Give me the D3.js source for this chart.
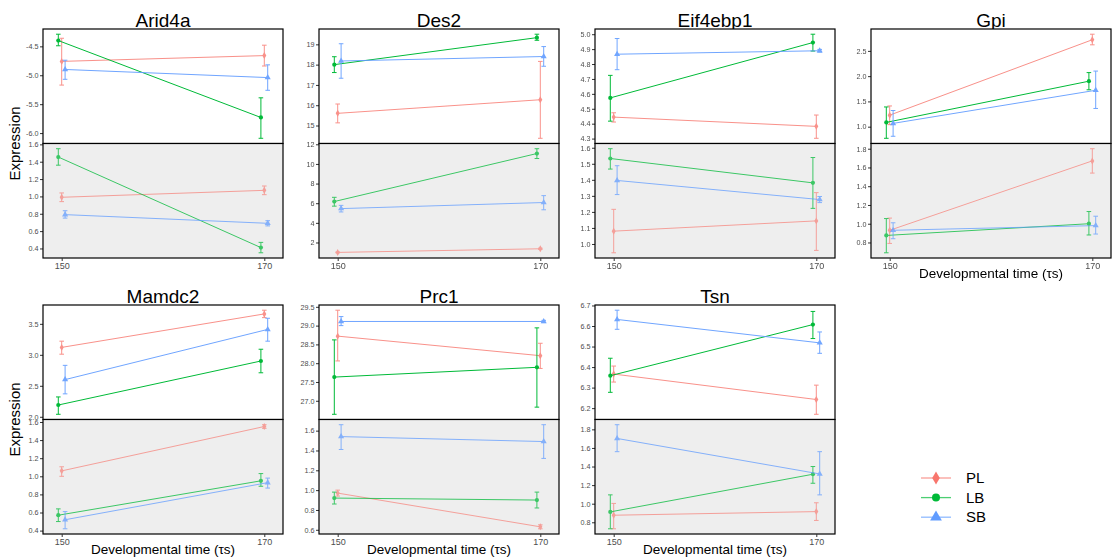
<!DOCTYPE html>
<html>
<head>
<meta charset="utf-8">
<script src="https://cdn.jsdelivr.net/npm/d3@7"></script>
<style>
  body { margin: 0; background: #fff; }
  svg { font-family: "Liberation Sans", Arial, sans-serif; }
</style>
</head>
<body>
<svg id="plot" width="1113" height="558"></svg>
<script>
const genes = ["Arid4a", "Des2", "Eif4ebp1", "Gpi", "Mamdc2", "Prc1", "Tsn"];
const groups = ["PL", "LB", "SB"];
const times = [150, 170];

// rows: [group, panel (0 = top, 1 = bottom), time, mean, low, high]
const arid4a = [
    ["PL", 0, 150, -4.76, -5.17, -4.36], ["LB", 0, 150, -4.40, -4.49, -4.29], ["SB", 0, 150, -4.90, -5.07, -4.74],
    ["PL", 0, 170, -4.66, -4.84, -4.48], ["LB", 0, 170, -5.73, -6.09, -5.39], ["SB", 0, 170, -5.04, -5.26, -4.82],
    ["PL", 1, 150, 0.99, 0.94, 1.04], ["LB", 1, 150, 1.454, 1.36, 1.55], ["SB", 1, 150, 0.79, 0.75, 0.835],
    ["PL", 1, 170, 1.07, 1.02, 1.12], ["LB", 1, 170, 0.41, 0.35, 0.47], ["SB", 1, 170, 0.69, 0.66, 0.72]
];
const des2 = [
    ["PL", 0, 150, 15.6, 15.13, 16.06], ["LB", 0, 150, 18.0, 17.61, 18.39], ["SB", 0, 150, 18.18, 17.33, 19.03],
    ["PL", 0, 170, 16.27, 14.37, 18.16], ["LB", 0, 170, 19.33, 19.2, 19.5], ["SB", 0, 170, 18.4, 17.92, 18.89],
    ["PL", 1, 150, 0.99, 0.95, 1.03], ["LB", 1, 150, 6.17, 5.7, 6.6], ["SB", 1, 150, 5.45, 5.11, 5.78],
    ["PL", 1, 170, 1.36, 1.3, 1.42], ["LB", 1, 170, 11.06, 10.55, 11.55], ["SB", 1, 170, 6.07, 5.33, 6.77]
];
const eif4ebp1 = [
    ["PL", 0, 150, 4.444, 4.411, 4.473], ["LB", 0, 150, 4.573, 4.417, 4.724], ["SB", 0, 150, 4.866, 4.762, 4.971],
    ["PL", 0, 170, 4.382, 4.302, 4.458], ["LB", 0, 170, 4.944, 4.887, 5.0], ["SB", 0, 170, 4.889, 4.88, 4.898],
    ["PL", 1, 150, 1.08, 0.945, 1.216], ["LB", 1, 150, 1.533, 1.467, 1.594], ["SB", 1, 150, 1.396, 1.308, 1.488],
    ["PL", 1, 170, 1.144, 0.96, 1.32], ["LB", 1, 170, 1.381, 1.222, 1.539], ["SB", 1, 170, 1.277, 1.258, 1.296]
];
const gpi = [
    ["PL", 0, 150, 1.228, 1.04, 1.41], ["LB", 0, 150, 1.085, 0.77, 1.39], ["SB", 0, 150, 1.065, 0.81, 1.32],
    ["PL", 0, 170, 2.72, 2.62, 2.83], ["LB", 0, 170, 1.90, 1.73, 2.07], ["SB", 0, 170, 1.72, 1.36, 2.10],
    ["PL", 1, 150, 0.93, 0.79, 1.06], ["LB", 1, 150, 0.875, 0.69, 1.055], ["SB", 1, 150, 0.93, 0.84, 1.01],
    ["PL", 1, 170, 1.67, 1.54, 1.80], ["LB", 1, 170, 1.0, 0.88, 1.13], ["SB", 1, 170, 0.98, 0.89, 1.08]
];
const mamdc2 = [
    ["PL", 0, 150, 3.12, 3.01, 3.22], ["LB", 0, 150, 2.19, 2.04, 2.32], ["SB", 0, 150, 2.60, 2.37, 2.83],
    ["PL", 0, 170, 3.66, 3.60, 3.72], ["LB", 0, 170, 2.90, 2.71, 3.09], ["SB", 0, 170, 3.41, 3.22, 3.59],
    ["PL", 1, 150, 1.06, 1.0, 1.105], ["LB", 1, 150, 0.57, 0.50, 0.64], ["SB", 1, 150, 0.52, 0.42, 0.61],
    ["PL", 1, 170, 1.55, 1.53, 1.57], ["LB", 1, 170, 0.95, 0.89, 1.03], ["SB", 1, 170, 0.93, 0.87, 0.98]
];
const prc1 = [
    ["PL", 0, 150, 28.72, 28.06, 29.41], ["LB", 0, 150, 27.63, 26.64, 28.62], ["SB", 0, 150, 29.11, 29.0, 29.24],
    ["PL", 0, 170, 28.2, 27.86, 28.53], ["LB", 0, 170, 27.89, 26.83, 28.94], ["SB", 0, 170, 29.11, 29.08, 29.14],
    ["PL", 1, 150, 0.97, 0.94, 1.0], ["LB", 1, 150, 0.92, 0.86, 0.98], ["SB", 1, 150, 1.54, 1.41, 1.66],
    ["PL", 1, 170, 0.63, 0.61, 0.65], ["LB", 1, 170, 0.90, 0.82, 0.98], ["SB", 1, 170, 1.49, 1.32, 1.66]
];
const tsn = [
    ["PL", 0, 150, 6.366, 6.327, 6.405], ["LB", 0, 150, 6.358, 6.277, 6.443], ["SB", 0, 150, 6.632, 6.584, 6.677],
    ["PL", 0, 170, 6.242, 6.17, 6.312], ["LB", 0, 170, 6.607, 6.539, 6.671], ["SB", 0, 170, 6.518, 6.467, 6.571],
    ["PL", 1, 150, 0.876, 0.73, 1.003], ["LB", 1, 150, 0.912, 0.73, 1.095], ["SB", 1, 150, 1.702, 1.56, 1.85],
    ["PL", 1, 170, 0.915, 0.82, 1.01], ["LB", 1, 170, 1.317, 1.22, 1.40], ["SB", 1, 170, 1.32, 1.095, 1.56]
];
const geneRows = [arid4a, des2, eif4ebp1, gpi, mamdc2, prc1, tsn];

// y tick spacing of each sub-panel, in gene order
const topTickStep = [0.5, 1, 0.1, 0.5, 0.5, 0.5, 0.1];
const bottomTickStep = [0.2, 2, 0.1, 0.2, 0.2, 0.2, 0.2];

// Config
const colors = { PL: "#F8766D", LB: "#00BA38", SB: "#619CFF" };
const symbols = { PL: d3.symbolDiamond, LB: d3.symbolCircle, SB: d3.symbolTriangle };
const dodge = { LB: -3.4, PL: 0, SB: 3.4 };
const lineAlpha = { PL: [0.8, 0.65], LB: [1, 0.75], SB: [0.9, 0.75] };
const panelW = 240, subH = 114.5, colStep = 276, rowStep = 276;
const left0 = 43, top0 = 29;

const svg = d3.select("#plot");
const x = d3.scaleLinear().domain([150, 170]).range([18.7, 221.3]);

function tickValues(domain, step) {
    const start = Math.ceil(domain[0] / step - 1e-9), stop = Math.floor(domain[1] / step + 1e-9);
    return d3.range(start, stop + 1).map(i => +(i * step).toFixed(6));
}

function drawSub(g, rows, panel, step, yTop) {
    const data = rows.filter(r => r[1] === panel);
    const lo = d3.min(data, r => r[4]), hi = d3.max(data, r => r[5]);
    const pad = (hi - lo) * 0.05;
    const y = d3.scaleLinear().domain([lo - pad, hi + pad]).range([yTop + subH, yTop]);

    g.append("rect")
        .attr("x", 0).attr("y", yTop)
        .attr("width", panelW).attr("height", subH)
        .attr("fill", panel === 0 ? "#FFFFFF" : "#EEEEEE");

    const digits = step < 1 ? 1 : 0;
    const axis = d3.axisLeft(y)
        .tickValues(tickValues(y.domain(), step))
        .tickSize(3).tickPadding(1.5)
        .tickFormat(d => d.toFixed(digits));
    const ax = g.append("g").call(axis);
    ax.select(".domain").remove();
    ax.selectAll("line").attr("stroke", "#333333");
    ax.selectAll("text").attr("fill", "#4D4D4D").style("font-size", "7.2px");

    groups.forEach(grp => {
        const pts = data.filter(r => r[0] === grp).sort((a, b) => a[2] - b[2]);
        const px = r => x(r[2]) + dodge[grp];
        const gg = g.append("g").attr("opacity", lineAlpha[grp][panel]);

        gg.append("path")
            .datum(pts)
            .attr("fill", "none")
            .attr("stroke", colors[grp])
            .attr("stroke-width", 1)
            .attr("d", d3.line().x(px).y(r => y(r[3])));

        pts.forEach(r => {
            const cx = px(r);
            gg.append("path")
                .attr("fill", "none")
                .attr("stroke", colors[grp])
                .attr("stroke-width", 1)
                .attr("d", `M${cx - 2.3},${y(r[5])}H${cx + 2.3}M${cx},${y(r[5])}V${y(r[4])}M${cx - 2.3},${y(r[4])}H${cx + 2.3}`);
            gg.append("path")
                .attr("d", d3.symbol().type(symbols[grp]).size(grp === "SB" ? 16 : 14)())
                .attr("transform", `translate(${cx},${y(r[3])})`)
                .attr("fill", colors[grp]);
        });
    });

    g.append("rect")
        .attr("x", 0).attr("y", yTop)
        .attr("width", panelW).attr("height", subH)
        .attr("fill", "none")
        .attr("stroke", "#000")
        .attr("stroke-width", 1.2);
}

genes.forEach((gene, i) => {
    const col = i % 4, row = Math.floor(i / 4);
    const g = svg.append("g")
        .attr("transform", `translate(${left0 + col * colStep},${top0 + row * rowStep})`);

    g.append("text")
        .attr("x", panelW / 2).attr("y", -2)
        .attr("text-anchor", "middle")
        .style("font-size", "19px")
        .text(gene);

    drawSub(g, geneRows[i], 0, topTickStep[i], 0);
    drawSub(g, geneRows[i], 1, bottomTickStep[i], subH);

    // X axis
    const xa = g.append("g")
        .attr("transform", `translate(0,${2 * subH})`)
        .call(d3.axisBottom(x).tickValues(times).tickSize(3).tickPadding(1.5));
    xa.select(".domain").remove();
    xa.selectAll("line").attr("stroke", "#333333");
    xa.selectAll("text").attr("fill", "#4D4D4D").style("font-size", "9px");

    if (row === 1 || col === 3) {
        g.append("text")
            .attr("x", panelW / 2).attr("y", 2 * subH + 20)
            .attr("text-anchor", "middle")
            .style("font-size", "13.5px")
            .text("Developmental time (\u03C4s)");
    }
    if (col === 0) {
        g.append("text")
            .attr("transform", `translate(-23,${subH}) rotate(-90)`)
            .attr("text-anchor", "middle")
            .style("font-size", "15px")
            .text("Expression");
    }
});

// Legend
const legend = svg.append("g").attr("transform", "translate(921,478)");
groups.forEach((grp, i) => {
    const item = legend.append("g").attr("transform", `translate(0,${i * 19.6})`);
    item.append("line")
        .attr("x1", 0).attr("x2", 30)
        .attr("stroke", colors[grp])
        .attr("stroke-opacity", 0.7)
        .attr("stroke-width", 1.3);
    item.append("path")
        .attr("d", d3.symbol().type(symbols[grp]).size(grp === "SB" ? 60 : 50)())
        .attr("transform", "translate(15,0)")
        .attr("fill", colors[grp]);
    item.append("text")
        .attr("x", 45).attr("y", 0)
        .attr("dy", "0.35em")
        .style("font-size", "15px")
        .text(grp);
});
</script>
</body>
</html>
